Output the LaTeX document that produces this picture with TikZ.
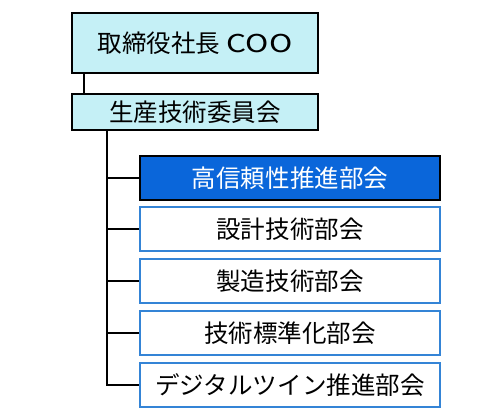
\documentclass[tikz,border=0pt]{standalone}
\usepackage{fontspec}
\setmainfont{Noto Sans CJK JP}
\usetikzlibrary{positioning}
\definecolor{paleCyan}{RGB}{197,240,246}
\definecolor{headBlue}{RGB}{10,102,218}
\definecolor{edgeBlue}{RGB}{52,132,214}
\tikzset{
	orgbox/.style={draw=black,line width=1.5pt,fill=paleCyan,minimum width=184.5pt,
		font=\fontsize{18.4}{22}\selectfont,inner sep=0pt},
	subbox/.style={draw=edgeBlue,line width=1.5pt,fill=white,minimum width=225pt,
		minimum height=33pt,font=\fontsize{18.4}{22}\selectfont,inner sep=0pt},
	leadbox/.style={subbox,draw=black,fill=headBlue,text=white},
	wire/.style={line width=1.5pt}
}

\begin{document}
\begin{tikzpicture}[x=0.75pt,y=-0.75pt]
	\useasboundingbox (0,0) rectangle (500,420);
	\node[orgbox,minimum height=45pt] (coo) at (195,43.5) {取締役社長\hspace{5pt}\scalebox{1.28}[1]{COO}};
	\node[orgbox,minimum height=27pt] (comm) at (195,112) {生産技術委員会};
	\foreach \i/\y/\sty/\txt in {1/178/leadbox/高信頼性推進部会,2/229.5/subbox/設計技術部会,
		3/281.5/subbox/製造技術部会,4/333.5/subbox/技術標準化部会,5/385/subbox/デジタルツイン推進部会}{
		\node[\sty] (sub\i) at (290,\y) {\txt};}
	\coordinate (upline) at (84,0);
	\coordinate (trunk) at (107,0);
	\draw[wire] (upline |- coo.south) -- (upline |- comm.north);
	\draw[wire] (trunk |- comm.south) -- (trunk |- sub5.west) -- (sub5.west);
	\foreach \i in {1,...,4}{
		\draw[wire] (trunk |- sub\i.west) -- (sub\i.west);}
\end{tikzpicture}
\end{document}
